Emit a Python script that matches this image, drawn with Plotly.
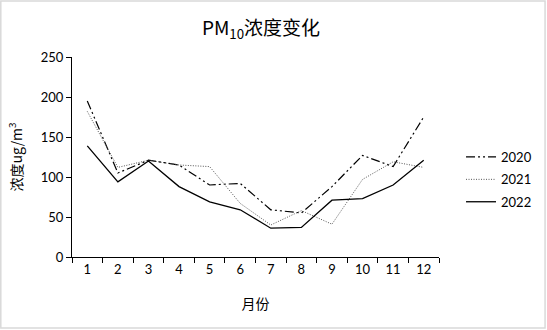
import plotly.graph_objects as go

months = [str(m) for m in range(1, 13)]
pm10_2020 = [195, 105, 121, 115, 90, 92, 59, 55, 88, 127, 113, 175]
pm10_2021 = [182, 112, 121, 115, 113, 67, 40, 58, 41, 97, 119, 112]
pm10_2022 = [139, 94, 120, 88, 69, 59, 36, 37, 71, 73, 90, 121]
y_ticks = [0, 50, 100, 150, 200, 250]

font_lat = "Lato, 'Open Sans', 'Noto Sans CJK SC', sans-serif"
font_cjk = "'Noto Sans CJK SC', sans-serif"

fig = go.Figure()
fig.add_trace(go.Scatter(x=months, y=pm10_2020, name="2020", mode="lines", legendgroup="a",
                         line=dict(color="#000000", width=1.2, dash="9px,3px,2px,3px,2px,3px")))
fig.add_trace(go.Scatter(x=months, y=pm10_2021, name="2021", mode="lines", legendgroup="b",
                         line=dict(color="#555555", width=1, dash="1px,1.5px")))
fig.add_trace(go.Scatter(x=months, y=pm10_2022, name="2022", mode="lines", legendgroup="c",
                         line=dict(color="#000000", width=1.3)))

fig.update_layout(
    width=547, height=330,
    margin=dict(l=72, r=108, t=57, b=73, autoexpand=False),
    paper_bgcolor="white", plot_bgcolor="white",
    title=dict(text="PM<sub>10</sub>浓度变化", x=0.515, xref="paper", xanchor="center",
               y=0.915, yanchor="middle",
               font=dict(family=font_cjk, size=19, color="#000000")),
    showlegend=True,
    legend=dict(x=1.06, y=0.575, xanchor="left", yanchor="top",
                font=dict(family=font_lat, size=13, color="#000000"),
                bgcolor="rgba(0,0,0,0)", tracegroupgap=2.5, itemwidth=30),
    xaxis=dict(type="category", range=[-0.5, 11.5], tickson="boundaries",
               ticks="outside", ticklen=5, automargin=False,
               tickcolor="#000000", showline=True, linecolor="#000000", linewidth=1,
               showgrid=False, tickfont=dict(family=font_lat, size=13, color="#000000"),
               title=dict(text="月份", font=dict(family=font_cjk, size=14, color="#000000"),
                          standoff=23)),
    yaxis=dict(range=[0, 250], tickvals=y_ticks, ticks="outside", ticklen=5,
               automargin=False,
               tickcolor="#000000", showline=True, linecolor="#000000", linewidth=1,
               showgrid=False, zeroline=False,
               tickfont=dict(family=font_lat, size=13, color="#000000"),
               title=dict(text="浓度ug/m<sup>3</sup>",
                          font=dict(family=font_cjk, size=14, color="#000000"),
                          standoff=14)),
)

fig.add_shape(type="rect", xref="paper", yref="paper",
              x0=-0.194, x1=1.289, y0=-0.355, y1=1.28,
              line=dict(color="#d9d9d9", width=1.5), fillcolor="rgba(0,0,0,0)", layer="below")

fig.write_html("out.html", config={"displayModeBar": False},
               post_script="document.body.style.margin='0px';")
